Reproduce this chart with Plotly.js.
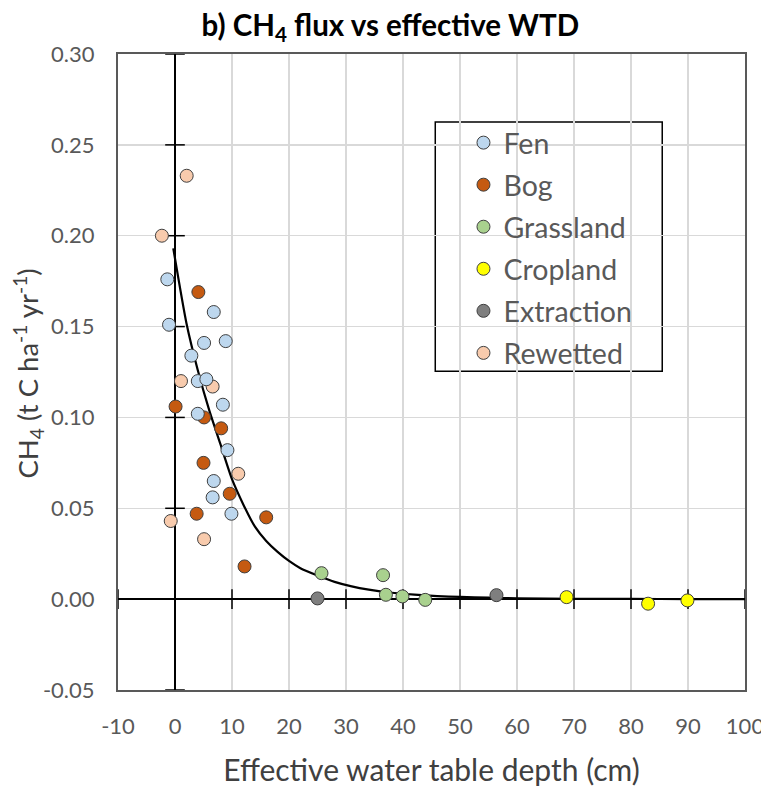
<!DOCTYPE html>
<html>
<head>
<meta charset="utf-8">
<script src="https://cdn.plot.ly/plotly-3.0.1.min.js"></script>
<style>html,body{margin:0;padding:0;background:#fff;}#chart{width:761px;height:789px;}</style>
</head>
<body>
<div id="chart"></div>
<script>
// ---- data ----
const fenX = [-1.35, -1.05, 6.8, 5.1, 8.9, 2.87, 4.0, 5.5, 8.4, 4.0, 9.2, 6.8, 6.6, 9.9];
const fenY = [0.176, 0.151, 0.158, 0.141, 0.142, 0.134, 0.120, 0.121, 0.107, 0.102, 0.082, 0.065, 0.056, 0.047];
const bogX = [4.1, 0.1, 5.1, 8.1, 5.0, 9.6, 3.8, 16.0, 12.2];
const bogY = [0.169, 0.106, 0.100, 0.094, 0.075, 0.058, 0.047, 0.045, 0.018];
const grassX = [25.7, 36.5, 37.0, 39.9, 43.9];
const grassY = [0.0143, 0.0132, 0.0024, 0.0015, -0.0004];
const cropX = [68.7, 83.0, 89.9];
const cropY = [0.0011, -0.0025, -0.0007];
const extrX = [25.0, 56.4];
const extrY = [0.0004, 0.0022];
const rewX = [2.05, -2.3, 1.05, 6.6, 11.1, -0.75, 5.1];
const rewY = [0.233, 0.200, 0.120, 0.117, 0.069, 0.043, 0.033];
// fitted curve
const fitX = [-0.3, 2, 4, 6, 8, 10, 12, 14, 16, 18, 20, 22, 25, 28, 31, 34, 38, 42, 46, 50, 55, 60, 70, 80, 90, 100];
const fitY = [0.193, 0.152, 0.126, 0.104, 0.085, 0.066, 0.052, 0.040, 0.032, 0.026, 0.021, 0.017, 0.013, 0.0095, 0.007, 0.0052, 0.0035, 0.0025, 0.0017, 0.0012, 0.0008, 0.0005, 0.0002, 0.0001, 0.00005, 0.00002];
// axis ticks
const xTicks = [-10, 0, 10, 20, 30, 40, 50, 60, 70, 80, 90, 100];
const yTicks = [-0.05, 0, 0.05, 0.10, 0.15, 0.20, 0.25, 0.30];

const FONT = 'Lato, "Open Sans", sans-serif';
const outline = {color: '#404040', width: 1};
function pts(name, x, y, color, rank) {
  return {type: 'scatter', mode: 'markers', name: name, x: x, y: y, legendrank: rank,
          legendgroup: name,
          marker: {size: 13, color: color, line: outline}, hoverinfo: 'x+y+name'};
}

const traces = [
  // tick crosses on the zero lines
  {type: 'scatter', mode: 'markers', x: xTicks, y: xTicks.map(() => 0), showlegend: false, hoverinfo: 'skip',
   marker: {symbol: 'line-ns-open', size: 14, color: '#000', line: {color: '#000', width: 1.5}}},
  {type: 'scatter', mode: 'markers', x: yTicks.map(() => 0), y: yTicks, showlegend: false, hoverinfo: 'skip',
   marker: {symbol: 'line-ew-open', size: 14, color: '#000', line: {color: '#000', width: 1.5}}},
  {type: 'scatter', mode: 'lines', x: fitX, y: fitY, showlegend: false, hoverinfo: 'skip',
   line: {color: '#000', width: 2.2, shape: 'spline', smoothing: 0.6}},
  pts('Cropland', cropX, cropY, '#FFFF00', 4),
  pts('Extraction', extrX, extrY, '#7F7F7F', 5),
  pts('Grassland', grassX, grassY, '#A9D18E', 3),
  pts('Bog', bogX, bogY, '#C55A11', 2),
  pts('Rewetted', rewX, rewY, '#F8CBAD', 6),
  pts('Fen', fenX, fenY, '#BDD7EE', 1)
];

const layout = {
  width: 761, height: 789,
  margin: {l: 118, r: 16, t: 54, b: 99},
  paper_bgcolor: '#fff', plot_bgcolor: '#fff',
  font: {family: FONT, color: '#595959'},
  title: {text: '<b>b) CH<sub>4</sub> flux vs effective WTD</b>', x: 0.513, xanchor: 'center', y: 0.968, yanchor: 'middle',
          font: {family: FONT, size: 29.5, color: '#000'}},
  xaxis: {range: [-10, 100], tickvals: xTicks, ticktext: xTicks.map(String), showgrid: true, gridcolor: '#d9d9d9', gridwidth: 1.5,
          zeroline: true, zerolinecolor: '#000', zerolinewidth: 1.6, ticklabeloverflow: 'allow',
          showline: true, mirror: true, linecolor: '#595959', linewidth: 2, ticks: '', ticklabelstandoff: 16,
          tickfont: {size: 22, color: '#595959'},
          title: {text: 'Effective water table depth (cm)', standoff: 22, font: {size: 30, color: '#404040'}}},
  yaxis: {range: [-0.05, 0.30], tickvals: yTicks, ticktext: yTicks.map(v => v.toFixed(2)), showgrid: true, gridcolor: '#d9d9d9', gridwidth: 1.5,
          zeroline: true, zerolinecolor: '#000', zerolinewidth: 1.6,
          showline: true, mirror: true, linecolor: '#595959', linewidth: 2, ticks: '', ticklabelstandoff: 17,
          tickfont: {size: 22, color: '#595959'}},
  annotations: [{text: 'CH<sub>4</sub> (t C ha<sup>-1</sup> yr<sup>-1</sup>)', textangle: -90, showarrow: false,
                 xref: 'paper', yref: 'paper', x: -0.144, xanchor: 'center', y: 0.497, yanchor: 'middle',
                 font: {family: FONT, size: 27.5, color: '#404040'}}],
  showlegend: true,
  legend: {x: 0.551, xanchor: 'left', y: 0.9, yanchor: 'top', bgcolor: 'rgba(0,0,0,0)', borderwidth: 0,
           traceorder: 'grouped', tracegroupgap: 2, font: {family: FONT, size: 28.5, color: '#595959'}},
  shapes: [{type: 'rect', xref: 'paper', yref: 'paper', layer: 'between',
            x0: 0.506, x1: 0.868, y0: 0.501, y1: 0.893,
            fillcolor: '#fff', line: {color: '#000', width: 1.5}}]
};

Plotly.newPlot('chart', traces, layout, {displayModeBar: false, staticPlot: true});
</script>
</body>
</html>
